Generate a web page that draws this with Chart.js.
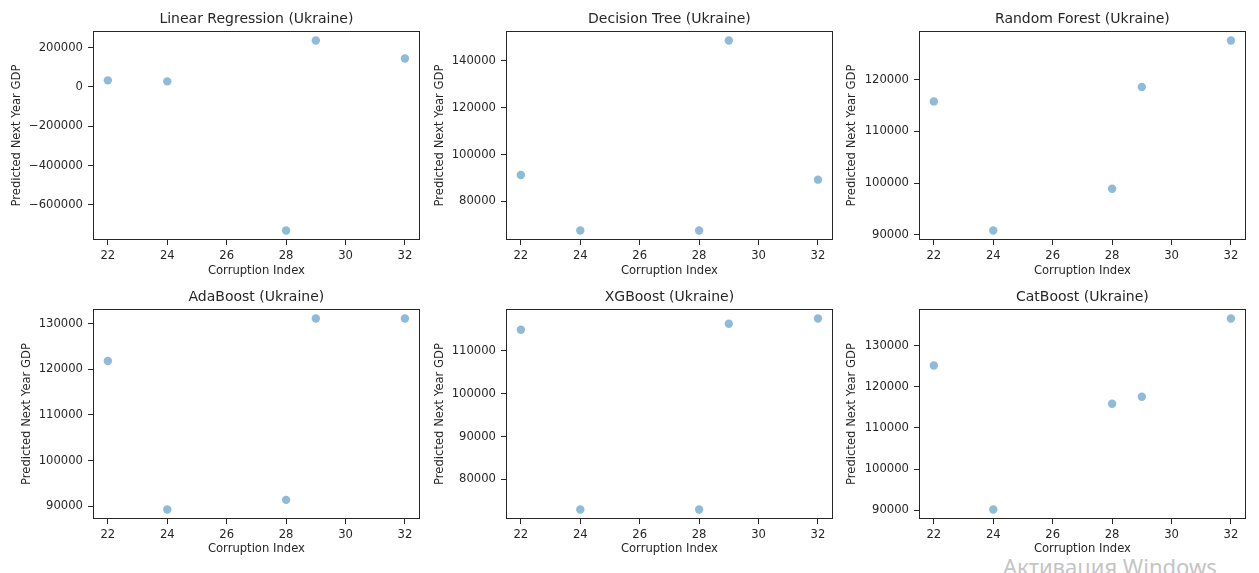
<!DOCTYPE html>
<html>
<head>
<meta charset="utf-8">
<script src="https://cdn.jsdelivr.net/npm/chart.js@4"></script>
<style>
  body { margin: 0; background: #fff; width: 1259px; height: 573px; overflow: hidden; position: relative; }
  canvas { position: absolute; }
  #wm { position: absolute; left: 1003px; top: 551px; font: 22px "Noto Sans", sans-serif; color: #c4c4c4; white-space: nowrap; }
</style>
</head>
<body>
<div id="wm">Активация Windows</div>
<script>
// corruption index (same x for every model)
const corruption = [22, 24, 28, 29, 32];
const xTicks = [22, 24, 26, 28, 30, 32];

// predicted next year GDP per model
const linReg     = [33500, 28400, -731000, 236500, 145000];
const decTree    = [91300, 67600, 67600, 148700, 89300];
const randForest = [115800, 90800, 98900, 118600, 127600];
const adaBoost   = [121800, 89300, 91400, 131100, 131100];
const xgBoost    = [114900, 73000, 73000, 116300, 117500];
const catBoost   = [125200, 90200, 115900, 117600, 136600];

// y tick values per model
const linRegTicks     = [-600000, -400000, -200000, 0, 200000];
const decTreeTicks    = [80000, 100000, 120000, 140000];
const randForestTicks = [90000, 100000, 110000, 120000];
const adaBoostTicks   = [90000, 100000, 110000, 120000, 130000];
const xgBoostTicks    = [80000, 90000, 100000, 110000];
const catBoostTicks   = [90000, 100000, 110000, 120000, 130000];

Chart.defaults.font.family = 'DejaVu Sans';
Chart.defaults.color = '#262626';

// grid geometry (pixels)
const colX = [0, 420, 840];
const plotL = [93, 506, 919];
const plotR = [423, 836, 1249];
const rowY = [0, 280];
const rowH = [280, 293];
const plotT = [31, 309];
const plotB = [240, 519];
const titlePad = [{ top: 11.5, bottom: 3.5 }, { top: 9.5, bottom: 3.5 }];
const xTitlePadBottom = [2.4, 16.8];

const panels = [
  { title: 'Linear Regression (Ukraine)', vals: linReg, ticks: linRegTicks, c: 0, r: 0, yPad: 9.8 },
  { title: 'Decision Tree (Ukraine)', vals: decTree, ticks: decTreeTicks, c: 1, r: 0, yPad: 13.1 },
  { title: 'Random Forest (Ukraine)', vals: randForest, ticks: randForestTicks, c: 2, r: 0, yPad: 5.4 },
  { title: 'AdaBoost (Ukraine)', vals: adaBoost, ticks: adaBoostTicks, c: 0, r: 1, yPad: 19.8 },
  { title: 'XGBoost (Ukraine)', vals: xgBoost, ticks: xgBoostTicks, c: 1, r: 1, yPad: 13.1 },
  { title: 'CatBoost (Ukraine)', vals: catBoost, ticks: catBoostTicks, c: 2, r: 1, yPad: 5.4 }
];

function padded(arr) {
  const lo = Math.min(...arr), hi = Math.max(...arr);
  const m = (hi - lo) * 0.05;
  return [lo - m, hi + m];
}

const frame = {
  id: 'frame',
  afterDraw(chart) {
    const a = chart.chartArea, ctx = chart.ctx;
    ctx.save();
    ctx.strokeStyle = '#262626';
    ctx.lineWidth = 1;
    ctx.strokeRect(Math.round(a.left) + 0.5, Math.round(a.top) + 0.5,
      Math.round(a.right - a.left) - 1, Math.round(a.bottom - a.top) - 1);
    ctx.restore();
  }
};

const tickFont = { size: 11.6 };
const fmt = v => String(v).replace('-', '\u2212');

panels.forEach(p => {
  const cv = document.createElement('canvas');
  const w = plotR[p.c] + 1 - colX[p.c];
  const h = rowH[p.r];
  cv.width = w; cv.height = h;
  cv.style.left = colX[p.c] + 'px';
  cv.style.top = rowY[p.r] + 'px';
  document.body.appendChild(cv);

  const [xMin, xMax] = padded(corruption);
  const [yMin, yMax] = padded(p.vals);
  const yW = plotL[p.c] - colX[p.c];
  const xH = rowY[p.r] + h - plotB[p.r];

  new Chart(cv, {
    type: 'scatter',
    data: {
      datasets: [{
        data: corruption.map((x, i) => ({ x: x, y: p.vals[i] })),
        backgroundColor: 'rgba(31,119,180,0.5)',
        borderWidth: 0,
        pointRadius: 4.2,
        pointHoverRadius: 4.2
      }]
    },
    options: {
      responsive: false,
      animation: false,
      layout: { padding: { left: 0, right: 1, top: 0, bottom: 0 } },
      plugins: {
        legend: { display: false },
        tooltip: { enabled: false },
        title: {
          display: true,
          fullSize: false,
          text: p.title,
          color: '#262626',
          font: { size: 14, weight: 'normal', lineHeight: '16px' },
          padding: titlePad[p.r]
        }
      },
      scales: {
        x: {
          type: 'linear',
          min: xMin, max: xMax,
          afterBuildTicks: s => { s.ticks = xTicks.map(v => ({ value: v })); },
          afterFit: s => { s.height = xH; },
          ticks: { font: tickFont, padding: 4, maxRotation: 0, autoSkip: false },
          grid: { drawOnChartArea: false, drawTicks: true, tickLength: 5, color: '#262626' },
          border: { display: false },
          title: { display: true, text: 'Corruption Index', font: tickFont, padding: { top: 0, bottom: xTitlePadBottom[p.r] } }
        },
        y: {
          type: 'linear',
          min: yMin, max: yMax,
          afterBuildTicks: s => { s.ticks = p.ticks.map(v => ({ value: v })); },
          afterFit: s => { s.width = yW; },
          ticks: { font: tickFont, padding: 5, autoSkip: false, callback: v => fmt(v) },
          grid: { drawOnChartArea: false, drawTicks: true, tickLength: 5, color: '#262626' },
          border: { display: false },
          title: { display: true, text: 'Predicted Next Year GDP', font: tickFont, padding: { top: p.yPad, bottom: 0 } }
        }
      }
    },
    plugins: [frame]
  });
});
</script>
</body>
</html>
